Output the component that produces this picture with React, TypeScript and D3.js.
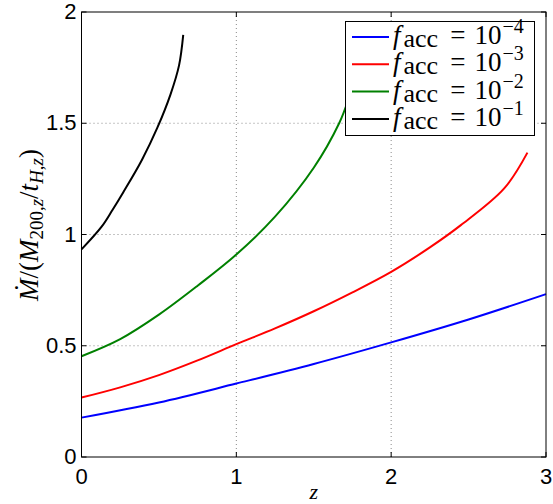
import { useRef, useEffect } from 'react';
import * as d3 from 'd3';

// accretion-rate curves
const zBlue = [0, 0.5, 1, 1.5, 2, 2.5, 3];
const mdotBlue = [0.177, 0.245, 0.33, 0.418, 0.515, 0.618, 0.732];

const zRed = [0, 0.25, 0.5, 0.75, 1, 1.25, 1.5, 1.75, 2, 2.25, 2.45, 2.73, 2.88];
const mdotRed = [0.267, 0.313, 0.368, 0.434, 0.507, 0.578, 0.655, 0.74, 0.832, 0.942, 1.042, 1.207, 1.368];

const zGreen = [0, 0.25, 0.5, 0.75, 1, 1.25, 1.5, 1.664, 1.72, 1.78];
const mdotGreen = [0.453, 0.53, 0.64, 0.77, 0.91, 1.08, 1.3, 1.5, 1.6, 1.75];

const zBlack = [0, 0.13, 0.2, 0.27, 0.39, 0.49, 0.575, 0.63, 0.657];
const mdotBlack = [0.933, 1.035, 1.11, 1.19, 1.335, 1.48, 1.63, 1.76, 1.897];

const exponents = ['4', '3', '2', '1'];
const lineColors = ['#0000ff', '#ff0000', '#008000', '#000000'];

const xTicks = [0, 1, 2, 3];
const yTicks = [0, 0.5, 1, 1.5, 2];

const W = 553;
const H = 504;
const margin = { top: 12, right: 7, bottom: 47, left: 81.5 };

export default function App() {
  const svgRef = useRef<SVGSVGElement>(null);

  useEffect(() => {
    if (!svgRef.current) return;
    const svg = d3.select(svgRef.current);
    svg.selectAll('*').remove();

    const x0 = margin.left;
    const x1 = W - margin.right;
    const y0 = H - margin.bottom;
    const y1 = margin.top;

    const x = d3.scaleLinear().domain([0, 3]).range([x0, x1]);
    const y = d3.scaleLinear().domain([0, 2]).range([y0, y1]);

    const sans = 'Liberation Sans, Arial, sans-serif';
    const serif = "'Liberation Serif', 'DejaVu Serif', serif";

    // grid
    const grid = svg.append('g').attr('stroke', '#8a8a8a').attr('stroke-dasharray', '1 3').attr('stroke-width', 1);
    xTicks.slice(1, -1).forEach((t) => {
      grid.append('line').attr('x1', x(t)).attr('x2', x(t)).attr('y1', y0).attr('y2', y1);
    });
    yTicks.slice(1, -1).forEach((t) => {
      grid.append('line').attr('x1', x0).attr('x2', x1).attr('y1', y(t)).attr('y2', y(t));
    });

    // curves
    const series = [
      { z: zBlue, v: mdotBlue },
      { z: zRed, v: mdotRed },
      { z: zGreen, v: mdotGreen },
      { z: zBlack, v: mdotBlack },
    ];
    const line = d3
      .line<[number, number]>()
      .x((d) => x(d[0]))
      .y((d) => y(d[1]))
      .curve(d3.curveCatmullRom.alpha(0.5));

    series.forEach((s, i) => {
      const pts = s.z.map((z, k) => [z, s.v[k]] as [number, number]);
      svg
        .append('path')
        .attr('d', line(pts))
        .attr('fill', 'none')
        .attr('stroke', lineColors[i])
        .attr('stroke-width', 2);
    });

    // frame + inward ticks on all sides
    svg
      .append('rect')
      .attr('x', x0)
      .attr('y', y1)
      .attr('width', x1 - x0)
      .attr('height', y0 - y1)
      .attr('fill', 'none')
      .attr('stroke', '#000')
      .attr('stroke-width', 1);

    const ticks = svg.append('g').attr('stroke', '#000').attr('stroke-width', 1);
    const tl = 5;
    xTicks.forEach((t) => {
      ticks.append('line').attr('x1', x(t)).attr('x2', x(t)).attr('y1', y0).attr('y2', y0 - tl);
      ticks.append('line').attr('x1', x(t)).attr('x2', x(t)).attr('y1', y1).attr('y2', y1 + tl);
    });
    yTicks.forEach((t) => {
      ticks.append('line').attr('x1', x0).attr('x2', x0 + tl).attr('y1', y(t)).attr('y2', y(t));
      ticks.append('line').attr('x1', x1).attr('x2', x1 - tl).attr('y1', y(t)).attr('y2', y(t));
    });

    // tick labels
    svg
      .append('g')
      .selectAll('text')
      .data(xTicks)
      .join('text')
      .attr('x', (d) => x(d))
      .attr('y', y0 + 27)
      .attr('text-anchor', 'middle')
      .attr('font-family', sans)
      .attr('font-size', 22)
      .text((d) => String(d));

    svg
      .append('g')
      .selectAll('text')
      .data(yTicks)
      .join('text')
      .attr('x', x0 - 5)
      .attr('y', (d) => y(d) + 7)
      .attr('text-anchor', 'end')
      .attr('font-family', sans)
      .attr('font-size', 22)
      .text((d) => String(d));

    // x label
    svg
      .append('text')
      .attr('x', (x0 + x1) / 2)
      .attr('y', 499)
      .attr('text-anchor', 'middle')
      .attr('font-family', serif)
      .attr('font-style', 'italic')
      .attr('font-size', 22)
      .text('z');

    // y label
    const yl = svg
      .append('text')
      .attr('transform', `translate(38,225) rotate(-90)`)
      .attr('text-anchor', 'middle')
      .attr('font-family', serif)
      .attr('font-size', 27);
    yl.append('tspan').attr('font-style', 'italic').text('\u1E40');
    yl.append('tspan').text('/(');
    yl.append('tspan').attr('font-style', 'italic').text('M');
    yl.append('tspan').attr('font-size', 19).attr('dy', 5).text('200,');
    yl.append('tspan').attr('font-size', 19).attr('font-style', 'italic').text('z');
    yl.append('tspan').attr('dy', -5).text('/');
    yl.append('tspan').attr('font-style', 'italic').text('t');
    yl.append('tspan').attr('font-size', 19).attr('font-style', 'italic').attr('dy', 5).text('H');
    yl.append('tspan').attr('font-size', 19).text(',');
    yl.append('tspan').attr('font-size', 19).attr('font-style', 'italic').text('z');
    yl.append('tspan').attr('dy', -5).text(')');

    // legend
    const lg = svg.append('g');
    lg.append('rect')
      .attr('x', 345.5)
      .attr('y', 21.5)
      .attr('width', 189)
      .attr('height', 114)
      .attr('fill', '#fff')
      .attr('stroke', '#000')
      .attr('stroke-width', 1);
    exponents.forEach((e, i) => {
      const cy = 37 + i * 27.3;
      lg.append('line')
        .attr('x1', 352)
        .attr('x2', 389)
        .attr('y1', cy)
        .attr('y2', cy)
        .attr('stroke', lineColors[i])
        .attr('stroke-width', 2);
      const t = lg
        .append('text')
        .attr('x', 393)
        .attr('y', cy + 7)
        .attr('font-family', serif)
        .attr('font-size', 27);
      t.append('tspan').attr('font-style', 'italic').text('f');
      t.append('tspan').attr('font-size', 26).attr('dx', 3).attr('dy', 3).text('acc');
      t.append('tspan').attr('dy', -3).attr('dx', 12).text('=');
      t.append('tspan').attr('dx', 9).text('10');
      t.append('tspan').attr('font-size', 20).attr('dx', 1).attr('dy', -11).text('\u2212' + e);
    });
  }, []);

  return (
    <svg
      ref={svgRef}
      width={W}
      height={H}
      style={{ position: 'absolute', left: 0, top: 0, background: '#fff' }}
    />
  );
}
